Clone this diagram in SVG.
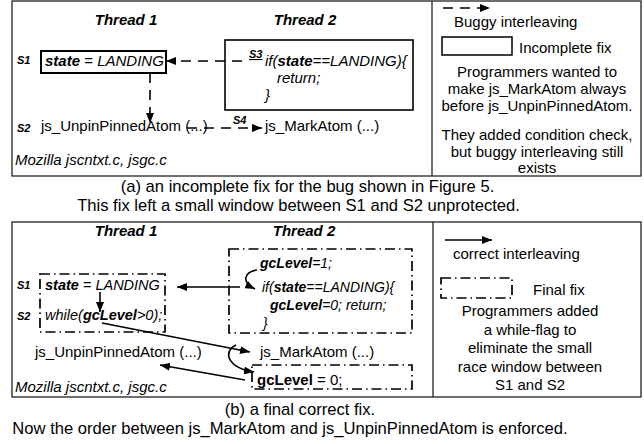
<svg xmlns="http://www.w3.org/2000/svg" width="644" height="444" viewBox="0 0 644 444">
<defs>
<marker id="ah" viewBox="0 0 10 8" refX="10" refY="4" markerWidth="10" markerHeight="8" markerUnits="userSpaceOnUse" orient="auto"><path d="M0,0 L10,4 L0,8 z" fill="#000"/></marker>
</defs>
<style>
text{font-family:"Liberation Sans",Arial,Helvetica,sans-serif;fill:#000;font-size:15px}
.th{font-weight:bold;font-style:italic}
.lab{font-size:11px;font-weight:bold;font-style:italic}
.it{font-style:italic}
.b{font-weight:bold}
.cap{font-size:16.6px}
.mid{text-anchor:middle}
.frame{fill:none;stroke:#222;stroke-width:1.3}
.dash{fill:none;stroke:#000;stroke-width:1.6;stroke-dasharray:10 7}
.solid{fill:none;stroke:#000;stroke-width:1.6}
.dd{fill:none;stroke:#000;stroke-width:1.7;stroke-dasharray:10 4 1.5 4}
</style>

<!-- Panel (a) -->
<g id="panel-a">
<rect class="frame" x="12" y="1" width="629" height="175"/>
<line class="frame" x1="432" y1="1" x2="432" y2="176"/>
<text class="th mid" x="126" y="25">Thread 1</text>
<text class="th mid" x="305" y="25">Thread 2</text>
<text class="it" x="15" y="165">Mozilla jscntxt.c, jsgc.c</text>
</g>
<g id="a-s1">
<text class="lab" x="17" y="64">S1</text>
<rect x="41" y="51" width="125" height="22" fill="none" stroke="#000" stroke-width="2"/>
<text x="45" y="66"><tspan class="th">state</tspan> = <tspan class="it">LANDING</tspan></text>
</g>
<g id="a-s3">
<rect x="225" y="40" width="188" height="70" fill="none" stroke="#000" stroke-width="1.6"/>
<text class="lab" x="249" y="58" text-decoration="underline">S3</text>
<text class="it" x="265" y="66">if(<tspan class="b">state</tspan>==LANDING){</text>
<text class="it" x="277" y="83">return;</text>
<text class="it" x="265" y="100">}</text>
</g>
<g id="a-s2">
<text class="lab" x="17" y="132">S2</text>
<text x="41" y="131">js_UnpinPinnedAtom (...)</text>
</g>
<g id="a-s4">
<text class="lab" x="233" y="124">S4</text>
<text x="265" y="131">js_MarkAtom (...)</text>
</g>
<g id="a-legend">
<line class="dash" x1="443" y1="8" x2="490" y2="8" marker-end="url(#ah)"/>
<text x="454" y="27">Buggy interleaving</text>
<rect x="442" y="37" width="70" height="18" fill="none" stroke="#000" stroke-width="1.5"/>
<text x="519" y="53">Incomplete fix</text>
<text class="mid" x="537" y="77">Programmers wanted to</text>
<text class="mid" x="537" y="94">make js_MarkAtom always</text>
<text class="mid" x="537" y="111">before js_UnpinPinnedAtom.</text>
<text class="mid" x="537" y="140">They added condition check,</text>
<text class="mid" x="537" y="157">but buggy interleaving still</text>
<text class="mid" x="537" y="173">exists</text>
</g>
<g id="caption-a">
<text class="cap mid" x="307.5" y="192">(a) an incomplete fix for the bug shown in Figure 5.</text>
<text class="cap mid" x="298.5" y="211">This fix left a small window between S1 and S2 unprotected.</text>
</g>

<!-- Panel (b) -->
<g id="panel-b">
<rect class="frame" x="12" y="222" width="629" height="175"/>
<line class="frame" x1="433" y1="222" x2="433" y2="397"/>
<text class="th mid" x="126" y="236">Thread 1</text>
<text class="th mid" x="304" y="236">Thread 2</text>
<text class="it" x="15" y="392">Mozilla jscntxt.c, jsgc.c</text>
</g>
<g id="b-t1">
<rect class="dd" x="40" y="274" width="125" height="58"/>
<text class="lab" x="17" y="289">S1</text>
<text x="45" y="290" style="font-size:14.5px"><tspan class="th">state</tspan> = <tspan class="it">LANDING</tspan></text>
<text class="lab" x="17" y="320">S2</text>
<text class="it" x="45" y="320" style="font-size:14.5px">while(<tspan class="b">gcLevel</tspan>&gt;0);</text>
</g>
<g id="b-t2">
<rect class="dd" x="229" y="249" width="183" height="84"/>
<text class="it" x="260" y="268" style="font-size:14px"><tspan class="b">gcLevel</tspan>=1;</text>
<text class="it" x="262" y="292" style="font-size:14px">if(<tspan class="b">state</tspan>==LANDING){</text>
<text class="it" x="270" y="310" style="font-size:14px"><tspan class="b">gcLevel</tspan>=0; return;</text>
<text class="it" x="263" y="328" style="font-size:14px">}</text>
</g>
<g id="b-unpin">
<text x="35" y="357">js_UnpinPinnedAtom (...)</text>
</g>
<g id="b-mark">
<text x="260" y="357">js_MarkAtom (...)</text>
</g>
<g id="b-gclevel">
<rect class="dd" x="252" y="365" width="160" height="24"/>
<text x="257" y="385"><tspan class="b">gcLevel</tspan> = 0;</text>
</g>
<g id="b-legend">
<line class="solid" x1="445" y1="240" x2="492" y2="240" marker-end="url(#ah)"/>
<text x="453" y="259">correct interleaving</text>
<rect class="dd" x="441" y="278" width="71" height="20"/>
<text x="533" y="295">Final fix</text>
<text class="mid" x="530" y="316">Programmers added</text>
<text class="mid" x="530" y="335">a while-flag to</text>
<text class="mid" x="530" y="353">eliminate the small</text>
<text class="mid" x="530" y="372">race window between</text>
<text class="mid" x="530" y="390">S1 and S2</text>
</g>
<g id="caption-b">
<text class="cap mid" x="300" y="415">(b) a final correct fix.</text>
<text class="cap mid" x="290" y="434">Now the order between js_MarkAtom and js_UnpinPinnedAtom is enforced.</text>
</g>

<!-- Connectors -->
<g id="connectors">
<line class="dash" x1="242" y1="61" x2="166" y2="61" marker-end="url(#ah)"/>
<line class="dash" x1="150" y1="73" x2="150" y2="123" marker-end="url(#ah)"/>
<line class="dash" x1="187" y1="128" x2="262" y2="128" marker-end="url(#ah)"/>
<line class="solid" x1="240" y1="287" x2="177" y2="287" marker-end="url(#ah)"/>
<line class="solid" x1="100" y1="292" x2="100" y2="312" marker-end="url(#ah)"/>
<path class="solid" d="M257,270 C244,272 241,282 255,289" marker-end="url(#ah)"/>
<line class="solid" x1="102" y1="323" x2="250" y2="352" marker-end="url(#ah)"/>
<path class="solid" d="M236,345 C222,352 228,368 254,372" marker-end="url(#ah)"/>
<line class="solid" x1="245" y1="380" x2="160" y2="365" marker-end="url(#ah)"/>
</g>
</svg>
